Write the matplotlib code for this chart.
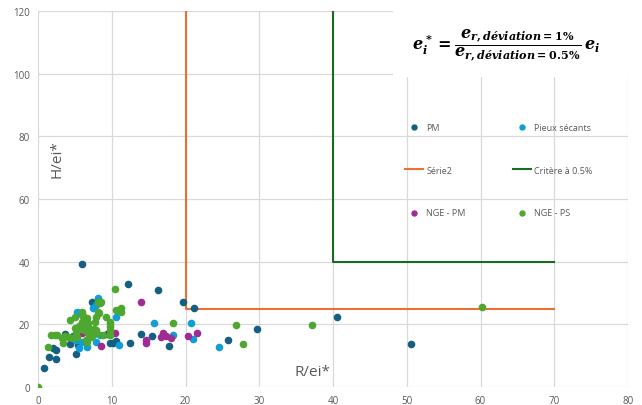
import numpy as np
import matplotlib
matplotlib.use("Agg")
import matplotlib.pyplot as plt
from matplotlib.patches import Rectangle

plt.rcParams['font.family'] = ['Open Sans', 'DejaVu Sans']
plt.rcParams['mathtext.fontset'] = 'custom'
plt.rcParams['mathtext.it'] = 'DejaVu Serif:italic:bold'
plt.rcParams['mathtext.rm'] = 'DejaVu Serif:bold'

# data
pm_x = [0.8, 1.5, 2.1, 2.4, 2.5, 3.7, 4.3, 4.8, 5.2, 5.4, 5.9, 7.3, 9.3, 9.8, 10.2, 10.6,
        12.2, 12.5, 13.9, 15.4, 16.3, 17.8, 19.6, 21.1, 25.8, 29.7, 40.6, 50.6]
pm_y = [6.0, 9.7, 12.5, 11.8, 8.9, 16.9, 13.7, 16.4, 10.5, 13.3, 39.4, 27.2, 16.9, 14.0, 14.2, 14.6,
        32.9, 14.0, 16.9, 16.2, 31.0, 13.0, 27.2, 25.1, 15.1, 18.5, 22.2, 13.8]

ps_x = [5.2, 5.5, 5.9, 5.3, 5.9, 6.7, 6.9, 7.5, 7.9, 7.9, 8.1, 8.4, 10.6, 11.0,
        15.7, 18.3, 20.7, 21.0, 24.5, 6.3, 7.2]
ps_y = [14.9, 12.3, 14.4, 24.0, 23.1, 12.8, 16.7, 25.1, 26.1, 14.4, 28.3, 16.5, 22.4, 13.3,
        20.3, 16.7, 20.3, 15.2, 12.9, 20.0, 17.5]

ngepm_x = [6.0, 8.6, 10.4, 14.0, 14.6, 14.7, 16.7, 17.0, 17.3, 18.0, 20.4, 21.6]
ngepm_y = [17.1, 13.1, 17.1, 27.2, 15.1, 13.9, 16.0, 17.1, 16.3, 15.5, 16.3, 17.1]

ngeps_x = [0.0, 1.3, 1.8, 2.3, 2.6, 3.3, 3.4, 3.6, 4.1, 4.3, 4.6, 5.0, 5.0, 5.1, 5.3, 5.5,
           5.7, 5.9, 6.0, 6.1, 6.3, 6.5, 6.7, 6.8, 6.8, 6.8, 6.7, 7.2, 7.5, 7.6, 7.7, 7.9,
           7.9, 7.9, 8.1, 8.3, 8.4, 8.6, 8.2, 8.8, 9.2, 9.7, 9.7, 9.7, 9.7, 9.8, 10.4, 10.6,
           11.2, 11.3, 18.3, 26.9, 27.8, 37.2, 60.2]
ngeps_y = [0.0, 12.8, 16.7, 16.7, 16.7, 15.5, 14.2, 16.2, 16.0, 21.3, 15.5, 22.4, 18.9, 17.1, 16.0, 19.5,
           18.6, 20.9, 24.0, 22.8, 18.1, 15.0, 21.9, 20.3, 19.2, 17.1, 14.4, 16.0, 16.5, 18.5, 20.9, 22.4,
           18.1, 17.1, 23.8, 23.5, 26.7, 27.2, 27.0, 16.5, 22.4, 20.8, 19.2, 18.1, 16.5, 20.0, 31.2, 24.5,
           25.1, 24.0, 20.3, 19.8, 13.8, 19.8, 25.6]

serie2_x = [20, 20, 70]
serie2_y = [120, 25, 25]
critere_x = [40, 40, 70]
critere_y = [120, 40, 40]

fig = plt.figure(figsize=(6.42, 4.06), dpi=100)
ax = fig.add_axes([38/642, 1-388/406, 590/642, 376/406])

s = 20
h_pm = ax.scatter(pm_x, pm_y, s=s, color='#156082', label='PM', zorder=3)
h_ps = ax.scatter(ps_x, ps_y, s=s, color='#0F9ED5', label='Pieux sécants', zorder=3)
h_s2, = ax.plot(serie2_x, serie2_y, color='#E97132', lw=1.5, label='Série2', zorder=2)
h_cr, = ax.plot(critere_x, critere_y, color='#196B24', lw=1.5, label='Critère à 0.5%', zorder=2)
h_npm = ax.scatter(ngepm_x, ngepm_y, s=s, color='#A02B93', label='NGE - PM', zorder=3)
h_nps = ax.scatter(ngeps_x, ngeps_y, s=s, color='#4EA72E', label='NGE - PS', zorder=3)

ax.set_xlim(0, 80)
ax.set_ylim(0, 120)
ax.set_xticks(range(0, 81, 10))
ax.set_yticks(range(0, 121, 20))
ax.grid(True, color='#d9d9d9', lw=0.9)
ax.set_axisbelow(True)
for sp in ax.spines.values():
    sp.set_visible(False)
ax.tick_params(length=0, labelsize=7, labelcolor='#595959', pad=6)

ax.text(0.032, 0.61, 'H/ei*', transform=ax.transAxes, rotation=90, fontsize=11,
        color='#595959', ha='center', va='center')
ax.text(0.465, 0.04, 'R/ei*', transform=ax.transAxes, fontsize=11,
        color='#595959', ha='center', va='center')

leg = ax.legend([h_pm, h_s2, h_npm, h_ps, h_cr, h_nps],
                ['PM', 'Série2', 'NGE - PM', 'Pieux sécants', 'Critère à 0.5%', 'NGE - PS'],
                ncol=2, loc='upper left', bbox_to_anchor=(0.615, 0.715), frameon=False,
                fontsize=6.5, labelspacing=3.75, handlelength=2.0, handletextpad=0.3,
                columnspacing=5.3, borderpad=0, scatterpoints=1, markerscale=0.8)
for t in leg.get_texts():
    t.set_color('#595959')

# equation box
fig.patches.append(Rectangle((393/642, 1-78/406), 249/642, 78/406, transform=fig.transFigure,
                             facecolor='white', edgecolor='none', zorder=5))
fig.text(506/642, 1-45/406,
         r'$e_i^* = \dfrac{e_{r,déviation=1\%}}{e_{r,déviation=0.5\%}}\, e_i$',
         fontsize=11.5, ha='center', va='center', zorder=6, color='black')

fig.savefig('out.png', dpi=100)
